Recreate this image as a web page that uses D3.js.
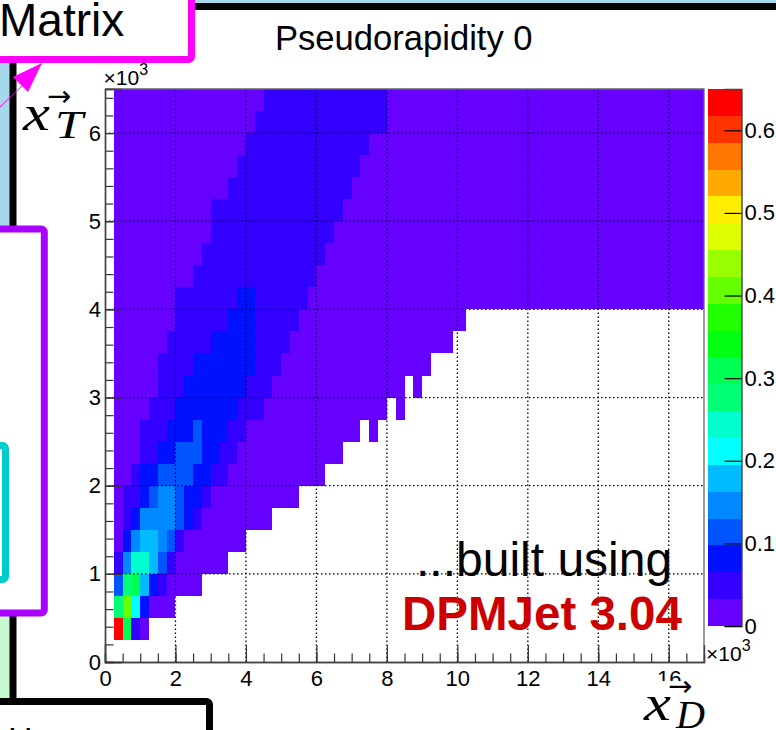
<!DOCTYPE html>
<html lang="en">
<head>
  <meta charset="UTF-8">
  <title>Pseudorapidity 0</title>
  <style>
    body { margin: 0; background: #fff; overflow: hidden; }
    svg { display: block; font-family: "Liberation Sans", sans-serif; }
  </style>
</head>
<body>
  <svg id="svg" width="776" height="730"></svg>
  <script src="https://d3js.org/d3.v7.min.js"></script>
  <script>
    // colour levels of the z axis, bottom to top
    const palette = ['#6600ff', '#3300ff', '#0011ff', '#0055ff', '#0088ff', '#00bbff', '#00ffff', '#00ffcc', '#00ff77', '#00ff55',
      '#00ff11', '#22ff00', '#66ff00', '#99ff00', '#ddff00', '#ffee00', '#ffaa00', '#ff7700', '#ff3300', '#ff0000']

    const xTicks = [0, 2, 4, 6, 8, 10, 12, 14, 16]
    const yTicks = [0, 1, 2, 3, 4, 5, 6]
    const zTicks = [0, 0.1, 0.2, 0.3, 0.4, 0.5, 0.6]
    const xMinor = d3.range(0, 17, 0.5)
    const yMinor = d3.range(0, 6.5, 0.2)

    const binSize = 0.25
    const firstBin = 0.25

    // one list per x_T row from 0.25 upward: [number of x_D bins, z value], null is an empty bin
    const zRuns = [
      [[1, .63], [1, .309], [1, .049], [1, .016]],
      [[1, .276], [1, .406], [1, .211], [1, .081], [3, .016]],
      [[1, .114], [1, .276], [1, .309], [1, .179], [1, .081], [1, .049], [4, .016]],
      [[1, .049], [1, .146], [2, .244], [1, .179], [1, .114], [1, .049], [6, .016]],
      [[1, .016], [1, .081], [1, .146], [2, .179], [1, .146], [1, .114], [1, .049], [7, .016]],
      [[1, .016], [1, .049], [1, .081], [4, .146], [1, .114], [1, .081], [1, .049], [8, .016]],
      [[1, .016], [2, .049], [1, .081], [1, .114], [2, .146], [1, .114], [2, .081], [1, .049], [10, .016]],
      [[2, .016], [1, .049], [2, .081], [4, .114], [2, .081], [2, .049], [11, .016]],
      [[3, .016], [2, .049], [2, .081], [3, .114], [2, .081], [2, .049], [12, .016]],
      [[3, .016], [3, .049], [3, .081], [1, .114], [3, .081], [2, .049], [13, .016], [1, null], [1, .016]],
      [[4, .016], [3, .049], [7, .081], [3, .049], [14, .016], [1, null], [1, .016]],
      [[5, .016], [3, .049], [7, .081], [3, .049], [15, .016], [1, null], [1, .016]],
      [[5, .016], [4, .049], [7, .081], [3, .049], [17, .016]],
      [[6, .016], [5, .049], [5, .081], [4, .049], [18.5, .016]],
      [[7, .016], [6, .049], [3, .081], [5, .049], [19, .016]],
      [[7, .016], [7, .049], [2, .081], [6, .049], [45, .016]],
      [[9, .016], [14, .049], [44, .016]],
      [[10, .016], [14, .049], [43, .016]],
      [[11, .016], [14, .049], [42, .016]],
      [[11, .016], [15, .049], [41, .016]],
      [[13, .016], [14, .049], [40, .016]],
      [[14, .016], [14, .049], [39, .016]],
      [[15, .016], [14, .049], [38, .016]],
      [[16, .016], [15, .049], [36, .016]],
      [[17, .016], [14, .049], [36, .016]]
    ]

    const frame = { left: 105, right: 704, top: 89, bottom: 662 }
    const bar = { left: 707.5, right: 741.5, top: 89, bottom: 626 }

    const svg = d3.select('#svg')

    const xScale = d3.scaleLinear().domain([0, 17]).range([frame.left, frame.right])
    const yScale = d3.scaleLinear().domain([0, 6.5]).range([frame.bottom, frame.top])
    const zScale = d3.scaleLinear().domain([0, 0.65]).range([bar.bottom, bar.top])
    const colorScale = d3.scaleQuantize().domain([0, 0.65]).range(palette)

    // coloured slides behind the plot
    svg.append('rect').attr('x', 0).attr('y', 0).attr('width', 776).attr('height', 3).attr('fill', '#a6d8ec')
    svg.append('rect').attr('x', 0).attr('y', 0).attr('width', 10).attr('height', 230).attr('fill', '#a6d8ec')
    svg.append('rect').attr('x', 0).attr('y', 610).attr('width', 10).attr('height', 90).attr('fill', '#c8f8d0')
    svg.append('rect').attr('x', 190).attr('y', 3).attr('width', 586).attr('height', 7).attr('fill', '#000')
    svg.append('rect').attr('x', 9.5).attr('y', 50).attr('width', 7).attr('height', 650).attr('fill', '#000')

    // heat map
    const cells = []
    zRuns.forEach((runs, row) => {
      let bin = 0
      runs.forEach(([count, value]) => {
        if (value !== null) cells.push({ row, bin, count, value })
        bin += count
      })
    })
    svg.append('g').selectAll('rect').data(cells).join('rect')
      .attr('x', d => xScale(firstBin + d.bin * binSize))
      .attr('y', d => yScale(firstBin + (d.row + 1) * binSize))
      .attr('width', d => xScale(d.count * binSize) - xScale(0))
      .attr('height', d => yScale(0) - yScale(binSize))
      .attr('fill', d => colorScale(d.value))
      .attr('shape-rendering', 'crispEdges')

    // dotted grid
    const grid = svg.append('g').attr('stroke', '#000').attr('stroke-width', 1.3).attr('stroke-dasharray', '1.5,2.5')
    grid.selectAll('.gx').data(xTicks.slice(1)).join('line')
      .attr('x1', d => xScale(d)).attr('x2', d => xScale(d))
      .attr('y1', frame.bottom).attr('y2', frame.top)
    grid.selectAll('.gy').data(yTicks.slice(1)).join('line')
      .attr('x1', frame.left).attr('x2', frame.right)
      .attr('y1', d => yScale(d)).attr('y2', d => yScale(d))

    // frame lines on top and right
    svg.append('path')
      .attr('d', d3.line()([[frame.left, frame.top], [frame.right, frame.top], [frame.right, frame.bottom]]))
      .attr('fill', 'none').attr('stroke', '#666').attr('stroke-width', 1.3)

    function styleAxis(g) {
      g.selectAll('path.domain').attr('stroke', '#444').attr('stroke-width', 1.4)
      g.selectAll('.tick line').attr('stroke', '#333').attr('stroke-width', 1.2)
      g.selectAll('text').attr('font-size', 22).attr('font-family', '"Liberation Sans", sans-serif').attr('fill', '#000')
    }

    // minor ticks first, then the labelled ones
    svg.append('g').attr('transform', `translate(0,${frame.bottom})`)
      .call(d3.axisBottom(xScale).tickValues(xMinor).tickSize(-8.5).tickFormat(''))
      .call(styleAxis)
    svg.append('g').attr('transform', `translate(${frame.left},0)`)
      .call(d3.axisLeft(yScale).tickValues(yMinor).tickSize(-8.5).tickFormat(''))
      .call(styleAxis)
    svg.append('g').attr('transform', `translate(0,${frame.bottom})`)
      .call(d3.axisBottom(xScale).tickValues(xTicks).tickSize(-17).tickPadding(8).tickFormat(d3.format('d')))
      .call(styleAxis)
    svg.append('g').attr('transform', `translate(${frame.left},0)`)
      .call(d3.axisLeft(yScale).tickValues(yTicks).tickSize(-17).tickPadding(4).tickFormat(d3.format('d')))
      .call(styleAxis)

    // colour bar
    svg.append('g').selectAll('rect').data(palette).join('rect')
      .attr('x', bar.left)
      .attr('width', bar.right - bar.left)
      .attr('y', (d, i) => zScale(colorScale.invertExtent(d)[1]))
      .attr('height', d => zScale(colorScale.invertExtent(d)[0]) - zScale(colorScale.invertExtent(d)[1]))
      .attr('fill', d => d)
      .attr('shape-rendering', 'crispEdges')
    svg.append('g').attr('transform', `translate(${bar.right},0)`)
      .call(d3.axisRight(zScale).tickValues(zTicks).tickSize(-17).tickPadding(3).tickFormat(d => d))
      .call(styleAxis)
      .call(g => g.selectAll('.tick line').attr('stroke', '#000'))

    // ×10^3 exponents
    function exponent(x, y) {
      const t = svg.append('text').attr('x', x).attr('y', y).attr('font-size', 21)
      t.append('tspan').text('×10')
      t.append('tspan').text('3').attr('font-size', 16).attr('dy', -10)
    }
    exponent(103.5, 85)
    exponent(706, 661)

    svg.append('text').attr('x', 275).attr('y', 50).attr('font-size', 34.6).text('Pseudorapidity 0')

    svg.append('text').attr('x', 416).attr('y', 576).attr('font-size', 48).text('...built using')
    svg.append('text').attr('x', 402).attr('y', 630).attr('font-size', 47.5)
      .attr('font-weight', 'bold').attr('fill', '#cc0000').text('DPMJet 3.04')

    // axis titles, the white patch of x_D hides part of the 16
    function vecLabel(x, y, sub, subW, arrowX, arrowY) {
      const math = svg.append('g').attr('font-family', '"Liberation Serif", serif').attr('font-style', 'italic')
      math.append('text').attr('x', x).attr('y', y).attr('font-size', 51)
        .attr('textLength', 27).attr('lengthAdjust', 'spacingAndGlyphs').text('x')
      math.append('text').attr('x', x + 32).attr('y', y + 8).attr('font-size', 39)
        .attr('textLength', subW).attr('lengthAdjust', 'spacingAndGlyphs').text(sub)
      svg.append('text').attr('x', arrowX).attr('y', arrowY).attr('font-size', 29)
        .attr('font-family', '"DejaVu Sans", sans-serif').text('→')
    }
    svg.append('rect').attr('x', 636).attr('y', 681).attr('width', 76).attr('height', 49).attr('fill', '#fff')
    vecLabel(644, 720, 'D', 29, 668, 696)
    vecLabel(23, 130, 'T', 28, 47, 106)

    // slide boxes cut off at the picture edge
    svg.append('rect').attr('x', -20).attr('y', 229).attr('width', 64.3).attr('height', 384).attr('rx', 3)
      .attr('fill', '#fff').attr('stroke', '#aa00ff').attr('stroke-width', 7)
    svg.append('rect').attr('x', -20).attr('y', 445.5).attr('width', 25.5).attr('height', 134).attr('rx', 3)
      .attr('fill', '#fff').attr('stroke', '#00cccc').attr('stroke-width', 7)
    svg.append('rect').attr('x', -20).attr('y', 701.5).attr('width', 229.5).attr('height', 60).attr('rx', 3)
      .attr('fill', '#fff').attr('stroke', '#000').attr('stroke-width', 7)
    svg.append('text').attr('x', 8).attr('y', 751).attr('font-size', 34).text('H')

    svg.append('line').attr('x1', 0).attr('y1', 107).attr('x2', 24).attr('y2', 84)
      .attr('stroke', '#ff00ff').attr('stroke-width', 1)
    svg.append('path').attr('d', d3.line()([[42, 63], [13, 77], [28, 92]])).attr('fill', '#ff00ff')
    svg.append('rect').attr('x', -20).attr('y', -20).attr('width', 211.5).attr('height', 79.5).attr('rx', 3)
      .attr('fill', '#fff').attr('stroke', '#ff00ff').attr('stroke-width', 7)
    svg.append('text').attr('x', -1).attr('y', 36).attr('font-size', 46).text('Matrix')
  </script>
</body>
</html>
